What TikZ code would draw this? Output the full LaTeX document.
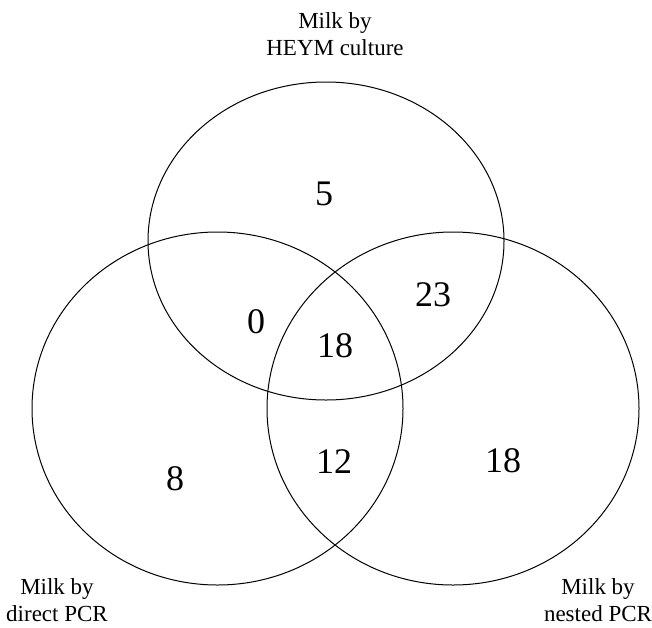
\documentclass[tikz,border=0pt]{standalone}
\usepackage{fontspec}
\setmainfont{Liberation Serif}
\tikzset{
  setline/.style={line width=1pt},
  setlabel/.style={align=center, inner sep=0pt, font=\fontsize{23}{27}\selectfont},
  num/.style={inner sep=0pt, font=\fontsize{36}{42}\selectfont}
}
\begin{document}
\begin{tikzpicture}[x=1pt,y=-1pt]
        \useasboundingbox(0,0)rectangle(652,627);
        \coordinate(H)at(326,241);
        \coordinate(D)at(217.5,408.5);
        \coordinate(N)at(453,408.5);
        \draw[setline](H)ellipse[x radius=178pt, y radius=159pt];
        \draw[setline](D)ellipse[x radius=185.5pt, y radius=176.5pt];
        \draw[setline](N)ellipse[x radius=186pt, y radius=176.5pt];
        % set labels
        \node[setlabel](heym)at(335,34){Milk by\\HEYM culture};
        \node[setlabel](direct)at(57,600){Milk by\\direct PCR};
        \node[setlabel](nested)at(598,600){Milk by\\nested PCR};
        % counts
        \node[num](onlyH)at(324,194){5};
        \node[num](HN)at(433,295){23};
        \node[num](HD)at(256,322){0};
        \node[num](HDN)at(335,346){18};
        \node[num](onlyD)at(175,479){8};
        \node[num](DN)at(334,462){12};
        \node[num](onlyN)at(503,461){18};
    \end{tikzpicture}
\end{document}
